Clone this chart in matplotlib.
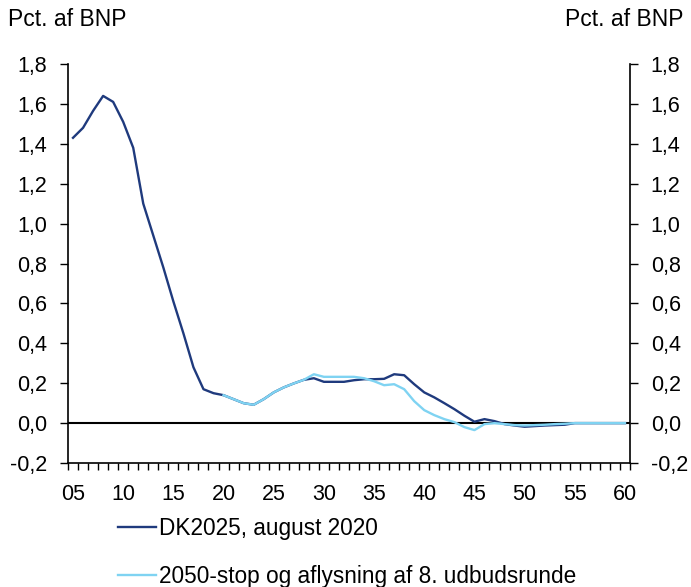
import matplotlib.pyplot as plt
from matplotlib.ticker import FuncFormatter, MultipleLocator
import numpy as np

plt.rcParams['font.family'] = ['Liberation Sans', 'DejaVu Sans']

# data (pct. af BNP)
years = list(range(2005, 2061))
dk2025 = [1.43, 1.48, 1.565, 1.64, 1.61, 1.51, 1.38, 1.10, 0.94, 0.78,
          0.61, 0.45, 0.28, 0.17, 0.15, 0.14, 0.12, 0.10, 0.092, 0.12,
          0.154, 0.179, 0.199, 0.217, 0.225, 0.207, 0.207, 0.207, 0.215, 0.22,
          0.22, 0.222, 0.245, 0.24, 0.195, 0.154, 0.129, 0.10, 0.07, 0.037,
          0.007, 0.02, 0.01, -0.005, -0.012, -0.018, -0.015, -0.012, -0.01, -0.008,
          0.0, 0.0, 0.0, 0.0, 0.0, 0.0]
years_stop = list(range(2020, 2061))
stop2050 = [0.14, 0.12, 0.10, 0.092, 0.12, 0.154, 0.179, 0.199, 0.217, 0.245,
            0.232, 0.232, 0.232, 0.232, 0.225, 0.21, 0.19, 0.195, 0.17, 0.11,
            0.065, 0.04, 0.02, 0.005, -0.02, -0.035, -0.005, 0.0, -0.005, -0.01,
            -0.012, -0.01, -0.008, -0.005, -0.003, 0.0, 0.0, 0.0, 0.0, 0.0, 0.0]

labels = ['DK2025, august 2020', '2050-stop og aflysning af 8. udbudsrunde']
colors = ['#1f3a7d', '#7fd3f2']

fig = plt.figure(figsize=(6.91, 5.87), dpi=100)
ax = fig.add_axes([0.0984, 0.2112, 0.8133, 0.6798])

ax.axhline(0, color='black', lw=1.5, zorder=1)
ax.plot(years, dk2025, color=colors[0], lw=1.7, label=labels[0], zorder=2)
ax.plot(years_stop, stop2050, color=colors[1], lw=1.7, label=labels[1], zorder=3)

ax.set_xlim(2004.5, 2060.5)
ax.set_ylim(-0.2, 1.8)

fs = 15.5
# x: labels every 5th year, small ticks between years
ax.set_xticks(range(2005, 2061, 5))
ax.set_xticklabels([f"{y % 100:02d}" for y in range(2005, 2061, 5)])
ax.set_xticks(np.arange(2004.5, 2061, 1), minor=True)
ax.tick_params(axis='x', which='major', length=0, pad=15, labelsize=fs)
ax.tick_params(axis='x', which='minor', length=5, width=1, direction='out')

ax.yaxis.set_major_locator(MultipleLocator(0.2))
ax.yaxis.set_major_formatter(FuncFormatter(lambda v, p: f"{v:.1f}".replace('.', ',').replace('-0,0', '0,0')))
ax.tick_params(axis='y', left=True, right=True, labelleft=True, labelright=True,
               length=6, width=1, direction='out', pad=9, labelsize=fs)

ax.spines['top'].set_visible(False)
for s in ['left', 'right', 'bottom']:
    ax.spines[s].set_linewidth(1.2)

fig.text(0.011, 0.966, 'Pct. af BNP', fontsize=16.5, ha='left', va='center')
fig.text(0.989, 0.966, 'Pct. af BNP', fontsize=16.5, ha='right', va='center')

fig.legend(loc='upper left', bbox_to_anchor=(0.1575, 0.135), frameon=False,
           fontsize=16.3, handlelength=1.7, handletextpad=0.13, labelspacing=1.12,
           borderaxespad=0)

fig.savefig('out.png', dpi=100)
